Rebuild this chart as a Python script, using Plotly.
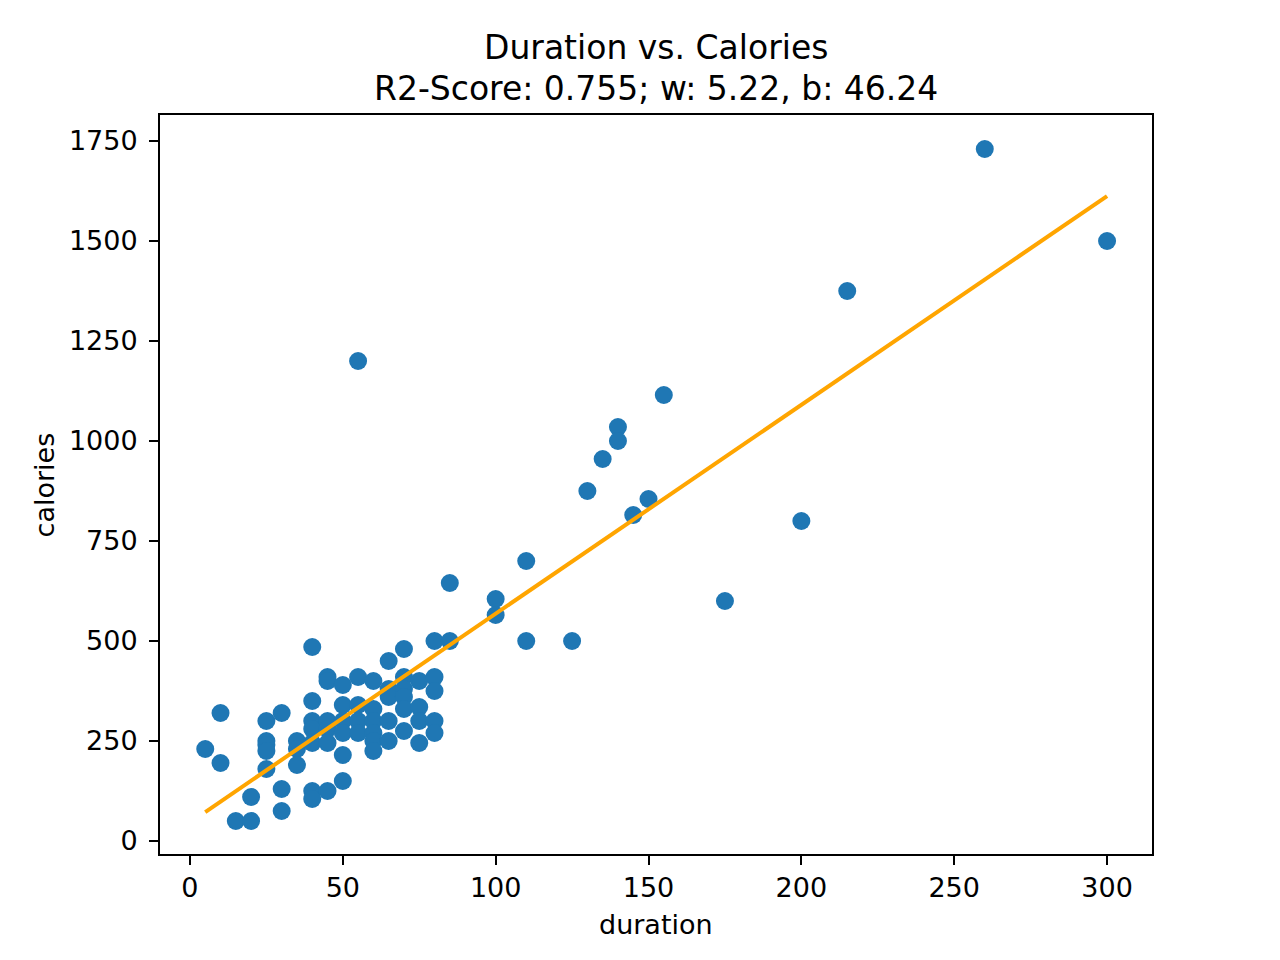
import plotly.graph_objects as go

# Data
duration = [5, 10, 10, 15, 20, 20,
            25, 25, 25, 25, 25,
            30, 30, 30,
            35, 35, 35,
            40, 40, 40, 40, 40, 40, 40,
            45, 45, 45, 45, 45, 45,
            50, 50, 50, 50, 50, 50,
            55, 55, 55, 55, 55,
            60, 60, 60, 60, 60, 60,
            65, 65, 65, 65, 65,
            70, 70, 70, 70, 70, 70,
            75, 75, 75, 75,
            80, 80, 80, 80, 80,
            85, 85, 100, 100, 110, 110, 125, 130, 135, 140, 140,
            145, 150, 155, 175, 200, 215, 260, 300]
calories = [230, 320, 195, 50, 50, 110,
            300, 250, 240, 225, 180,
            320, 130, 75,
            250, 230, 190,
            485, 350, 300, 280, 245, 125, 105,
            410, 400, 300, 280, 245, 125,
            390, 340, 300, 270, 215, 150,
            1200, 410, 340, 300, 270,
            400, 330, 300, 270, 250, 225,
            450, 380, 360, 300, 250,
            480, 410, 380, 360, 330, 275,
            400, 335, 300, 245,
            500, 410, 375, 300, 270,
            645, 500, 605, 565, 700, 500, 500, 875, 955, 1035, 1000,
            815, 855, 1115, 600, 800, 1375, 1730, 1500]

r2 = 0.755
w = 5.22
b = 46.24

line_x = [min(duration), max(duration)]
line_y = [w * v + b for v in line_x]

fig = go.Figure()

fig.add_trace(go.Scatter(
    x=duration, y=calories, mode='markers',
    marker=dict(color='#1f77b4', size=18, line=dict(width=0)),
    showlegend=False
))

fig.add_trace(go.Scatter(
    x=line_x, y=line_y, mode='lines',
    line=dict(color='orange', width=4),
    showlegend=False
))

axis_style = dict(
    showgrid=False, zeroline=False,
    showline=True, linecolor='black', linewidth=2, mirror=True,
    ticks='outside', ticklen=9, tickwidth=2, tickcolor='black',
    tickfont=dict(family='DejaVu Sans', size=27, color='black'),
)

fig.update_xaxes(range=[-9.8, 314.7], tickvals=[0, 50, 100, 150, 200, 250, 300], **axis_style)
fig.update_yaxes(range=[-32.5, 1815], tickvals=[0, 250, 500, 750, 1000, 1250, 1500, 1750],
                 ticklabelstandoff=6, **axis_style)

title_font = dict(family='DejaVu Sans', size=33, color='black')
label_font = dict(family='DejaVu Sans', size=27, color='black')

fig.update_layout(
    width=1280, height=960,
    margin=dict(l=152, r=136, t=107, b=114),
    plot_bgcolor='white', paper_bgcolor='white',
    annotations=[
        dict(text='Duration vs. Calories', xref='paper', yref='paper', x=0.5, y=1.0907,
             xanchor='center', yanchor='middle', showarrow=False, font=title_font),
        dict(text=f'R2-Score: {r2}; w: {w}, b: {b}', xref='paper', yref='paper', x=0.5, y=1.0365,
             xanchor='center', yanchor='middle', showarrow=False, font=title_font),
        dict(text='duration', xref='paper', yref='paper', x=0.5, y=-0.096,
             xanchor='center', yanchor='middle', showarrow=False, font=label_font),
        dict(text='calories', xref='paper', yref='paper', x=-0.116, y=0.5, textangle=-90,
             xanchor='center', yanchor='middle', showarrow=False, font=label_font),
    ]
)

fig.write_html('out.html')
